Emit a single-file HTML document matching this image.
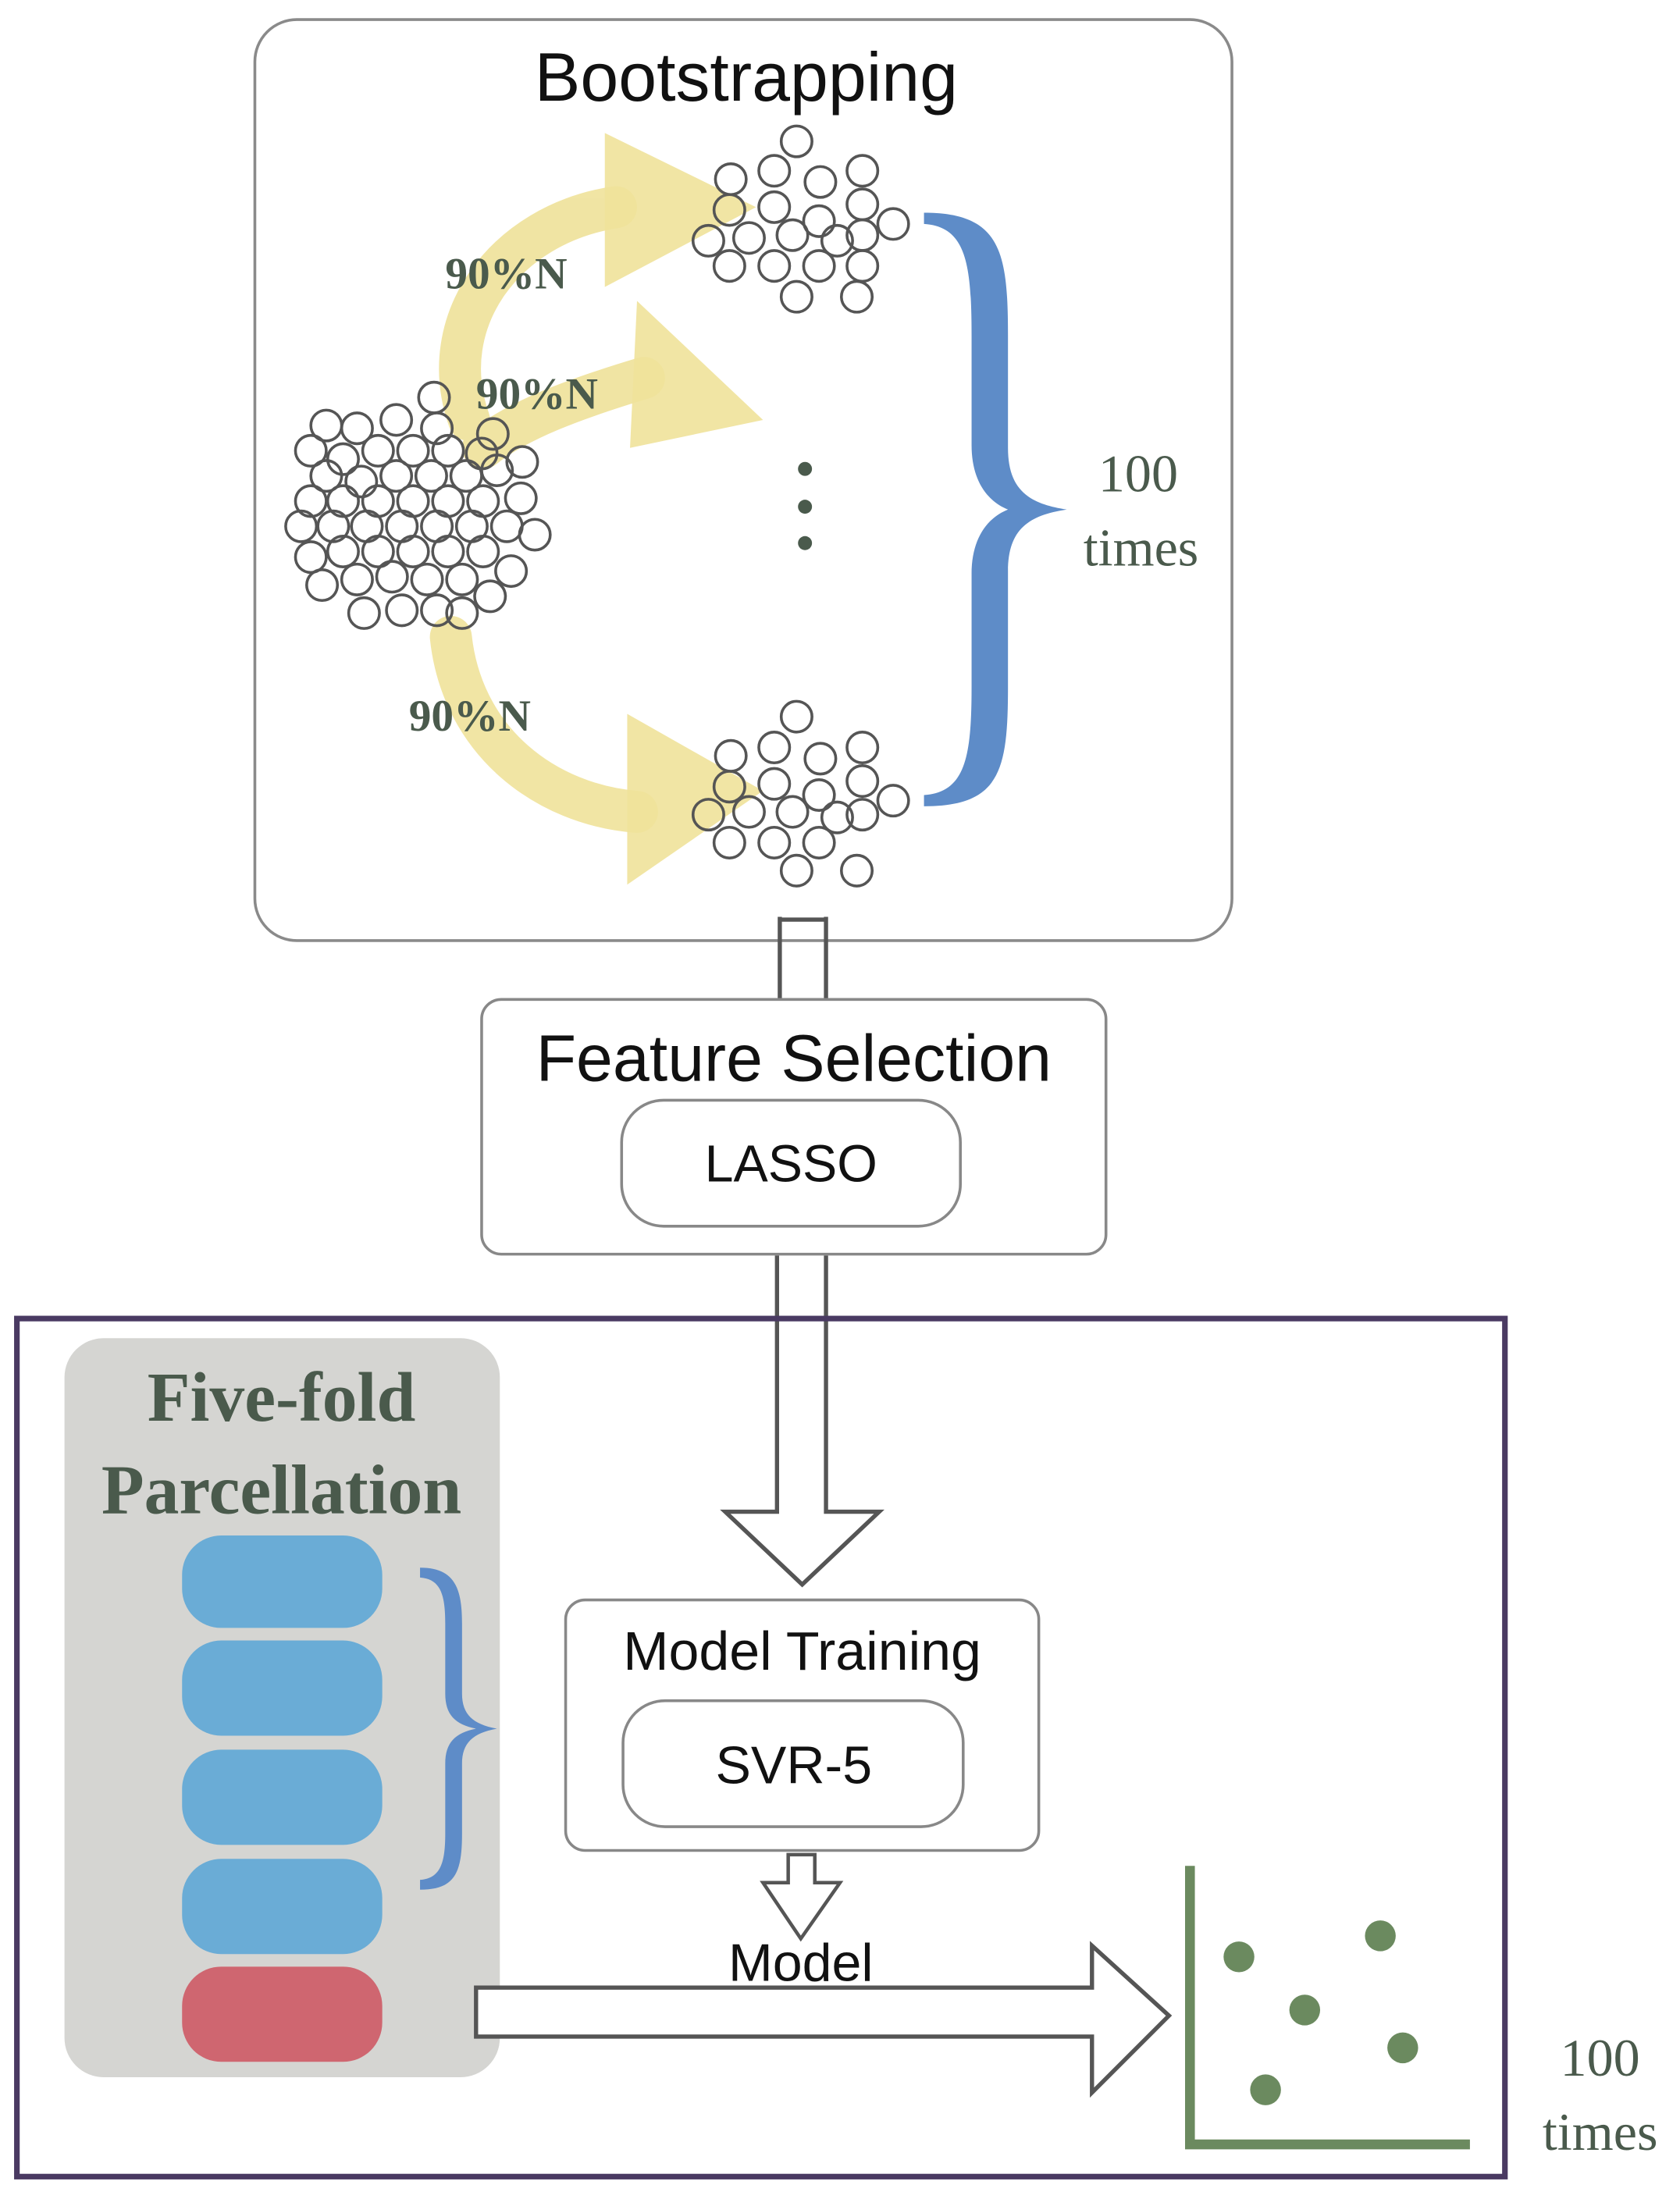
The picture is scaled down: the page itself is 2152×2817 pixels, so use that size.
<!DOCTYPE html>
<html><head><meta charset="utf-8"><style>html,body{margin:0;padding:0;background:#fff}svg{display:block}</style></head><body>
<svg width="2152" height="2817" viewBox="0 0 1200 1571" xmlns="http://www.w3.org/2000/svg">
<rect x="0" y="0" width="1200" height="1571" fill="#fff"/>
<rect x="182" y="14" width="698" height="658" rx="30" fill="#fff" stroke="#8a8a8a" stroke-width="2"/>
<text x="533" y="72" font-family="Liberation Sans, sans-serif" font-size="49" text-anchor="middle" fill="#111">Bootstrapping</text>
<g fill="none" stroke="#efe29a" stroke-width="30" stroke-linecap="round" opacity="0.9">
<path d="M335,300 C310,230 360,160 440,148"/>
<path d="M345,320 C370,300 410,285 460,270"/>
<path d="M322,455 C330,530 390,575 455,580"/>
</g>
<g fill="#efe29a" opacity="0.9">
<polygon points="432,95 540,148 432,205"/>
<polygon points="455,215 545,300 450,320"/>
<polygon points="448,510 545,565 448,632"/>
</g>
<g font-family="Liberation Serif, serif" font-weight="bold" font-size="32" fill="#4a5a4c">
<text x="318" y="206">90%N</text>
<text x="340" y="292">90%N</text>
<text x="292" y="522">90%N</text>
</g>
<g fill="none" stroke="#555" stroke-width="2">
<circle cx="569" cy="101" r="11"/><circle cx="522" cy="128" r="11"/><circle cx="553" cy="122" r="11"/><circle cx="586" cy="130" r="11"/><circle cx="616" cy="122" r="11"/>
<circle cx="521" cy="150" r="11"/><circle cx="553" cy="148" r="11"/><circle cx="585" cy="158" r="11"/><circle cx="616" cy="146" r="11"/><circle cx="638" cy="160" r="11"/>
<circle cx="506" cy="172" r="11"/><circle cx="535" cy="170" r="11"/><circle cx="566" cy="168" r="11"/><circle cx="598" cy="172" r="11"/><circle cx="616" cy="168" r="11"/>
<circle cx="521" cy="190" r="11"/><circle cx="553" cy="190" r="11"/><circle cx="585" cy="190" r="11"/><circle cx="616" cy="190" r="11"/><circle cx="569" cy="212" r="11"/><circle cx="612" cy="212" r="11"/>
<circle cx="569" cy="512" r="11"/><circle cx="522" cy="540" r="11"/><circle cx="553" cy="534" r="11"/><circle cx="586" cy="542" r="11"/><circle cx="616" cy="534" r="11"/>
<circle cx="521" cy="562" r="11"/><circle cx="553" cy="560" r="11"/><circle cx="585" cy="568" r="11"/><circle cx="616" cy="558" r="11"/><circle cx="638" cy="572" r="11"/>
<circle cx="506" cy="582" r="11"/><circle cx="535" cy="580" r="11"/><circle cx="566" cy="580" r="11"/><circle cx="598" cy="584" r="11"/><circle cx="616" cy="582" r="11"/>
<circle cx="521" cy="602" r="11"/><circle cx="553" cy="602" r="11"/><circle cx="585" cy="602" r="11"/><circle cx="612" cy="622" r="11"/><circle cx="569" cy="622" r="11"/>
<circle cx="310" cy="284" r="11"/>
<circle cx="233" cy="304" r="11"/><circle cx="255" cy="306" r="11"/><circle cx="283" cy="300" r="11"/><circle cx="312" cy="306" r="11"/><circle cx="352" cy="310" r="11"/>
<circle cx="222" cy="322" r="11"/><circle cx="245" cy="328" r="11"/><circle cx="270" cy="322" r="11"/><circle cx="295" cy="322" r="11"/><circle cx="320" cy="322" r="11"/><circle cx="344" cy="324" r="11"/>
<circle cx="233" cy="340" r="11"/><circle cx="258" cy="344" r="11"/><circle cx="283" cy="340" r="11"/><circle cx="308" cy="340" r="11"/><circle cx="333" cy="340" r="11"/><circle cx="355" cy="336" r="11"/><circle cx="373" cy="330" r="11"/>
<circle cx="222" cy="358" r="11"/><circle cx="245" cy="358" r="11"/><circle cx="270" cy="358" r="11"/><circle cx="295" cy="358" r="11"/><circle cx="320" cy="358" r="11"/><circle cx="345" cy="358" r="11"/><circle cx="372" cy="356" r="11"/>
<circle cx="215" cy="376" r="11"/><circle cx="238" cy="376" r="11"/><circle cx="262" cy="376" r="11"/><circle cx="287" cy="376" r="11"/><circle cx="312" cy="376" r="11"/><circle cx="337" cy="376" r="11"/><circle cx="362" cy="376" r="11"/><circle cx="382" cy="382" r="11"/>
<circle cx="222" cy="398" r="11"/><circle cx="245" cy="394" r="11"/><circle cx="270" cy="394" r="11"/><circle cx="295" cy="394" r="11"/><circle cx="320" cy="394" r="11"/><circle cx="345" cy="394" r="11"/><circle cx="365" cy="408" r="11"/>
<circle cx="230" cy="418" r="11"/><circle cx="255" cy="414" r="11"/><circle cx="280" cy="412" r="11"/><circle cx="305" cy="414" r="11"/><circle cx="330" cy="414" r="11"/><circle cx="350" cy="426" r="11"/>
<circle cx="260" cy="438" r="11"/><circle cx="287" cy="436" r="11"/><circle cx="312" cy="436" r="11"/><circle cx="330" cy="438" r="11"/>
</g>
<g fill="#4a5a4c"><circle cx="575" cy="335" r="5"/><circle cx="575" cy="362" r="5"/><circle cx="575" cy="388" r="5"/></g>
<path d="M660,152 C715,152 720,180 720,240 L720,320 C720,350 735,360 762,364 C735,368 720,378 720,408 L720,490 C720,550 715,576 660,576 L660,568 C690,566 694,540 694,490 L694,410 C694,385 705,370 720,364 C705,358 694,343 694,318 L694,240 C694,188 690,162 660,160 Z" fill="#5e8cc8"/>
<g font-family="Liberation Serif, serif" font-size="38" fill="#4a5a4c" text-anchor="middle">
<text x="813" y="351">100</text><text x="815" y="404">times</text>
<text x="1143" y="1483">100</text><text x="1143" y="1536">times</text>
</g>
<g fill="#fff" stroke="#555" stroke-width="3">
<path d="M557,655 L557,715 M590,655 L590,715 M557,657 L590,657"/>
<path d="M555,897 L555,1080 L518,1080 L573,1132 L628,1080 L590,1080 L590,897" fill="none"/>
</g>
<rect x="344" y="714" width="446" height="182" rx="14" fill="#fff" stroke="#888" stroke-width="2"/>
<text x="567" y="772" font-family="Liberation Sans, sans-serif" font-size="47" text-anchor="middle" fill="#111">Feature Selection</text>
<rect x="444" y="786" width="242" height="90" rx="30" fill="#fff" stroke="#888" stroke-width="2"/>
<text x="565" y="844" font-family="Liberation Sans, sans-serif" font-size="37" text-anchor="middle" fill="#111">LASSO</text>
<rect x="12" y="942" width="1063" height="613" fill="none" stroke="#4a3a62" stroke-width="4"/>
<rect x="46" y="956" width="311" height="528" rx="28" fill="#d5d5d2"/>
<g font-family="Liberation Serif, serif" font-weight="bold" font-size="50" fill="#4a5a4c" text-anchor="middle">
<text x="201" y="1015">Five-fold</text><text x="201" y="1081">Parcellation</text>
</g>
<g fill="#6aacd6">
<rect x="130" y="1097" width="143" height="66" rx="28"/>
<rect x="130" y="1172" width="143" height="68" rx="28"/>
<rect x="130" y="1250" width="143" height="68" rx="28"/>
<rect x="130" y="1328" width="143" height="68" rx="28"/>
</g>
<rect x="130" y="1405" width="143" height="68" rx="28" fill="#cf6670"/>
<path d="M300,1120 C325,1120 330,1135 330,1160 L330,1210 C330,1225 338,1232 355,1235 C338,1238 330,1245 330,1260 L330,1310 C330,1338 325,1350 300,1350 L300,1343 C315,1342 318,1330 318,1310 L318,1260 C318,1245 325,1238 340,1235 C325,1232 318,1225 318,1210 L318,1160 C318,1140 315,1128 300,1127 Z" fill="#5e8cc8"/>
<rect x="404" y="1143" width="338" height="179" rx="14" fill="#fff" stroke="#888" stroke-width="2"/>
<text x="573" y="1193" font-family="Liberation Sans, sans-serif" font-size="39" text-anchor="middle" fill="#111">Model Training</text>
<rect x="445" y="1215" width="243" height="90" rx="30" fill="#fff" stroke="#888" stroke-width="2"/>
<text x="567" y="1274" font-family="Liberation Sans, sans-serif" font-size="38" text-anchor="middle" fill="#111">SVR-5</text>
<path d="M563,1325 L563,1345 L545,1345 L572,1385 L600,1345 L582,1345 L582,1325 Z" fill="#fff" stroke="#555" stroke-width="2.5"/>
<text x="572" y="1415" font-family="Liberation Sans, sans-serif" font-size="38" text-anchor="middle" fill="#111">Model</text>
<path d="M340,1420 L780,1420 L780,1390 L835,1440 L780,1495 L780,1455 L340,1455 Z" fill="#fff" stroke="#555" stroke-width="3"/>
<path d="M850,1333 L850,1532 L1050,1532" fill="none" stroke="#6b8a5f" stroke-width="7"/>
<g fill="#6b8a5f"><circle cx="885" cy="1398" r="11"/><circle cx="986" cy="1383" r="11"/><circle cx="932" cy="1436" r="11"/><circle cx="1002" cy="1463" r="11"/><circle cx="904" cy="1493" r="11"/></g>
</svg>
</body></html>
